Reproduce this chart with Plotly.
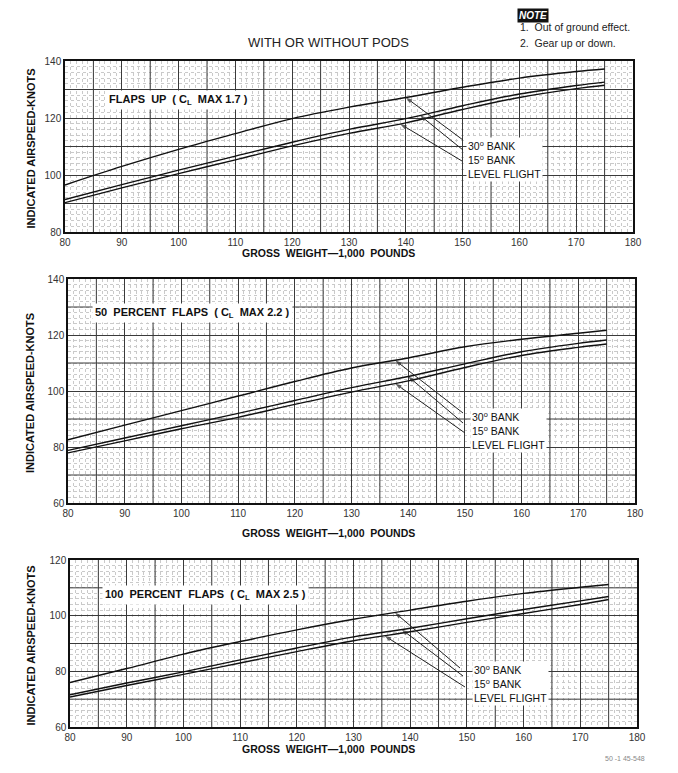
import plotly.graph_objects as go
import numpy as np

# browser window 678x773; page body has an 8px margin
OFF = 8
W, H = 678 - OFF, 773 - OFF

# ---------------- data ----------------
weight = [80, 90, 100, 110, 120, 130, 140, 150, 160, 170, 175]

up_30 = [96.5, 103.0, 109.0, 114.5, 119.8, 123.8, 127.2, 130.8, 134.0, 136.3, 137.2]
up_15 = [91.4, 96.6, 101.7, 106.6, 111.5, 116.0, 119.8, 124.3, 128.4, 131.4, 132.6]
up_lv = [90.3, 95.5, 100.5, 105.3, 110.2, 114.6, 118.3, 123.0, 127.2, 130.3, 131.5]

half_30 = [82.6, 87.8, 93.0, 98.2, 103.4, 108.2, 111.8, 115.8, 118.5, 120.6, 121.7]
half_15 = [78.8, 83.2, 87.6, 92.0, 96.6, 101.2, 105.2, 109.7, 114.0, 117.0, 118.2]
half_lv = [77.9, 82.2, 86.5, 90.6, 95.2, 99.6, 103.6, 108.4, 112.7, 115.6, 116.8]

full_30 = [76.0, 81.0, 86.2, 90.7, 94.9, 98.7, 102.0, 105.2, 108.0, 110.2, 111.2]
full_15 = [71.6, 75.8, 79.8, 84.1, 88.4, 92.4, 95.5, 98.9, 102.2, 105.3, 106.9]
full_lv = [70.8, 74.9, 78.9, 83.0, 87.1, 91.0, 94.2, 97.6, 100.8, 104.0, 105.8]

x_ticks = [80, 90, 100, 110, 120, 130, 140, 150, 160, 170, 180]

panel_titles = [
    "FLAPS  UP  ( C<sub>L</sub>  MAX 1.7 )",
    "50  PERCENT  FLAPS  ( C<sub>L</sub>  MAX 2.2 )",
    "100  PERCENT  FLAPS  ( C<sub>L</sub>  MAX 2.5 )",
]
y_ranges = [(80, 140), (60, 140), (60, 120)]
series_names = ["30° BANK", "15° BANK", "LEVEL FLIGHT"]

panels = [
    (up_30, up_15, up_lv),
    (half_30, half_15, half_lv),
    (full_30, full_15, full_lv),
]

# ---------------- layout geometry (window pixels) ----------------
boxes = [  # left, right, top, bottom
    (65, 633, 61, 232),
    (68, 635, 279, 503),
    (70, 637, 560, 727),
]
arrow_x = [(140, 142.5, 139), (137.7, 140, 137.7), (137.3, 138.5, 135.5)]
label_pos = [(466, 145), (470, 416), (472, 669)]   # pixel position of first label line
arrow_tails = [
    [(463, 140), (463, 150), (462, 161)],
    [(463, 413), (463, 423), (465, 433)],
    [(460, 668), (463, 676), (465, 687)],
]
title_pos = [(106, 100), (92, 313), (102, 595)]
xtitle_y = [253, 533, 749]
ytitle_x = 30

def fx(px):
    return (px - OFF) / W

def fy(py):
    return 1 - (py - OFF) / H

fig = go.Figure()
annotations = []
shapes = []

FONT = "Liberation Sans"
GRID = "#3a3a3a"

for i, (data, box, yr) in enumerate(zip(panels, boxes, y_ranges)):
    n = "" if i == 0 else str(i + 1)
    l, r, t, b = box
    xa = "x" + n
    ya = "y" + n
    for vals, name in zip(data, series_names):
        fig.add_trace(go.Scatter(
            x=weight, y=vals, mode="lines", name=name, showlegend=False,
            line=dict(color="#111", width=1.4, shape="spline"),
            xaxis=xa, yaxis=ya, hoverinfo="skip",
        ))
    y_ticks = list(range(yr[0], yr[1] + 1, 20))
    fig.update_layout(**{
        "xaxis" + n: dict(
            domain=[fx(l), fx(r)], anchor=ya, range=[80, 180], automargin=False,
            tickvals=x_ticks, ticks="",
            showgrid=True, gridcolor=GRID, gridwidth=1,
            showline=True, linecolor="#111", linewidth=1.5, mirror=True,
            zeroline=False,
            tickfont=dict(family=FONT, size=10, color="#333"),
            minor=dict(dtick=1, tick0=80, showgrid=True, gridcolor="#cacaca",
                       griddash="dot", gridwidth=1),
        ),
        "yaxis" + n: dict(
            domain=[fy(b), fy(t)], anchor=xa, range=list(yr), automargin=False,
            tickvals=y_ticks, ticks="",
            showgrid=True, gridcolor=GRID, gridwidth=1,
            showline=True, linecolor="#111", linewidth=1.5, mirror=True,
            zeroline=False,
            tickfont=dict(family=FONT, size=10, color="#333"),
            minor=dict(dtick=2, tick0=0, showgrid=True, gridcolor="#cacaca",
                       griddash="dot", gridwidth=1),
        ),
    })

    # intermediate solid grid lines (every 5 in weight, every 10 in speed)
    for gx in range(85, 180, 10):
        shapes.append(dict(type="line", xref=xa, yref=ya, x0=gx, x1=gx,
                           y0=yr[0], y1=yr[1], layer="between",
                           line=dict(color=GRID, width=1)))
    for gy in range(yr[0] + 10, yr[1], 20):
        shapes.append(dict(type="line", xref=xa, yref=ya, x0=80, x1=180,
                           y0=gy, y1=gy, layer="between",
                           line=dict(color=GRID, width=1)))

    # panel title in white box
    tx, ty = title_pos[i]
    annotations.append(dict(
        xref="paper", yref="paper", x=fx(tx), y=fy(ty), xanchor="left", yanchor="middle",
        text="<b>" + panel_titles[i] + "</b>", showarrow=False, bgcolor="white",
        font=dict(family=FONT, size=11, color="#111"), borderpad=2,
    ))

    # arrows pointing to curves (line + arrow-head marker)
    for k, vals in enumerate(data):
        ax_val = arrow_x[i][k]
        tip_y = float(np.interp(ax_val, weight, vals))
        tpx, tpy = arrow_tails[i][k]
        tail_x = 80 + (tpx - l) / (r - l) * 100
        tail_y = yr[1] - (tpy - t) / (b - t) * (yr[1] - yr[0])
        fig.add_trace(go.Scatter(
            x=[tail_x, ax_val], y=[tail_y, tip_y], mode="lines+markers",
            line=dict(color="#222", width=1),
            marker=dict(symbol=["line-ns", "arrow"], size=[0, 7],
                        angleref="previous", color="#222",
                        line=dict(width=0)),
            xaxis=xa, yaxis=ya, showlegend=False, hoverinfo="skip",
        ))
    # labels
    lx, ly = label_pos[i]
    annotations.append(dict(
        xref="paper", yref="paper", x=fx(lx), y=fy(ly - 8), xanchor="left", yanchor="top",
        text="30<sup>o</sup> BANK<br>15<sup>o</sup> BANK<br>LEVEL FLIGHT",
        align="left", showarrow=False, bgcolor="white",
        font=dict(family=FONT, size=10.5, color="#111"), borderpad=1,
    ))

    # axis titles
    annotations.append(dict(
        xref="paper", yref="paper", x=fx(328), y=fy(xtitle_y[i]),
        xanchor="center", yanchor="middle",
        text="<b>GROSS  WEIGHT—1,000  POUNDS</b>", showarrow=False,
        font=dict(family=FONT, size=10.5, color="#111"),
    ))
    annotations.append(dict(
        xref="paper", yref="paper", x=fx(ytitle_x), y=fy((t + b) / 2 + 2),
        xanchor="center", yanchor="middle", textangle=-90,
        text="<b>INDICATED AIRSPEED-KNOTS</b>", showarrow=False,
        font=dict(family=FONT, size=11, color="#111"),
    ))

# header texts
annotations.append(dict(
    xref="paper", yref="paper", x=fx(328), y=fy(43), xanchor="center", yanchor="middle",
    text="WITH OR WITHOUT PODS", showarrow=False,
    font=dict(family=FONT, size=13, color="#222"),
))
annotations.append(dict(
    xref="paper", yref="paper", x=fx(517), y=1.0, xanchor="left", yanchor="top",
    text="<b><i>NOTE</i></b>", showarrow=False, bgcolor="#111",
    font=dict(family=FONT, size=10, color="white"), borderpad=1,
))
annotations.append(dict(
    xref="paper", yref="paper", x=fx(518), y=fy(27), xanchor="left", yanchor="middle",
    text="1.  Out of ground effect.", showarrow=False,
    font=dict(family=FONT, size=10.5, color="#222"),
))
annotations.append(dict(
    xref="paper", yref="paper", x=fx(518), y=fy(43), xanchor="left", yanchor="middle",
    text="2.  Gear up or down.", showarrow=False,
    font=dict(family=FONT, size=10.5, color="#222"),
))
annotations.append(dict(
    xref="paper", yref="paper", x=fx(625), y=fy(758), xanchor="center", yanchor="middle",
    text="50 -1 45-548", showarrow=False,
    font=dict(family=FONT, size=7, color="#888"),
))

fig.update_layout(
    width=W, height=H, margin=dict(l=0, r=0, t=0, b=0),
    paper_bgcolor="white", plot_bgcolor="white",
    annotations=annotations, shapes=shapes, showlegend=False,
)

fig.write_html("out.html")
